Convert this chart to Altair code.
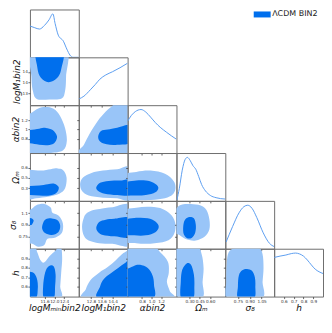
import altair as alt
import pandas as pd

# ---------------- parameters ----------------
TITLES = ["logMₘᵢₙbin2", "logM₁bin2", "αbin2", "Ωₘ", "σ₈", "h"]
DOMAINS = [[11.0, 13.0], [11.9, 15.5], [0.5, 1.52], [0.11, 0.82], [0.59, 1.21], [0.5, 1.0]]
TICKS = [[11.6, 12.0, 12.4], [12.8, 13.6, 14.4], [0.8, 1.0, 1.2],
         [0.30, 0.45, 0.60], [0.75, 0.90, 1.05], [0.6, 0.7, 0.8, 0.9]]
XFMT = [".1f", ".1f", ".1f", ".2f", ".2f", ".1f"]
YFMT = "~g"
LEGEND_LABELS = ["ΛCDM BIN2"]

# ---------------- 1D marginals (normalised density) ----------------
D0_X = [11.0, 11.2, 11.39, 11.59, 11.78, 11.94, 12.03, 12.16, 12.37, 12.51, 12.64, 12.76, 13.0]
D0_P = [0.72, 0.68, 0.65, 0.73, 0.86, 1.0, 0.78, 0.51, 0.37, 0.19, 0.05, 0.0, 0.0]
D1_X = [11.93, 12.28, 12.75, 13.12, 13.45, 13.89, 14.38, 14.94, 15.5]
D1_P = [0.145, 0.207, 0.353, 0.477, 0.596, 0.695, 0.768, 0.861, 0.965]
D2_X = [0.5, 0.58, 0.66, 0.78, 0.88, 0.98, 1.08, 1.18, 1.314, 1.42, 1.52]
D2_P = [0.73, 0.867, 0.952, 1.0, 0.941, 0.825, 0.698, 0.592, 0.476, 0.391, 0.317]
D3_X = [0.117, 0.152, 0.194, 0.237, 0.269, 0.307, 0.349, 0.391, 0.433, 0.476, 0.532, 0.602, 0.686, 0.82]
D3_P = [0.02, 0.29, 0.706, 0.955, 1.0, 0.934, 0.81, 0.726, 0.56, 0.374, 0.228, 0.125, 0.073, 0.042]
D4_X = [0.6, 0.682, 0.764, 0.826, 0.875, 0.928, 0.989, 1.071, 1.152, 1.21]
D4_P = [0.154, 0.508, 0.825, 0.967, 1.0, 0.931, 0.719, 0.366, 0.121, 0.049]
D5_X = [0.5, 0.56, 0.62, 0.68, 0.72, 0.76, 0.8, 0.84, 0.88, 0.92, 0.96, 1.0]
D5_P = [0.9, 0.93, 0.955, 0.99, 1.0, 0.98, 0.93, 0.84, 0.73, 0.63, 0.57, 0.53]
DIAG = [(D0_X, D0_P), (D1_X, D1_P), (D2_X, D2_P), (D3_X, D3_P), (D4_X, D4_P), (D5_X, D5_P)]

# ---------------- 2D contours (68% inner, 95% outer), vertices in data units ----------------
# key: (row parameter, column parameter)
CONTOURS = {
    (1, 0): {
        "outer": [([11.06, 11.06, 11.12, 11.28, 11.8, 12.3, 12.44, 12.48, 12.48],
                   [16.22, 14.06, 12.98, 12.37, 12.33, 12.4, 12.98, 14.06, 16.22])],
        "inner": [([11.29, 11.30, 11.44, 11.76, 12.10, 12.28, 12.34],
                   [16.22, 14.78, 13.99, 13.63, 13.92, 14.60, 16.22])],
    },
    (2, 0): {
        "outer": [([10.67, 11.0, 11.34, 11.65, 11.97, 12.24, 12.44, 12.51, 12.36, 11.85, 11.26, 10.67],
                   [1.304, 1.344, 1.451, 1.481, 1.442, 1.285, 1.03, 0.755, 0.559, 0.50, 0.49, 0.49])],
        "inner": [([10.67, 11.0, 11.38, 11.65, 11.93, 12.11, 12.0, 11.73, 11.38, 11.0, 10.67],
                   [0.971, 0.99, 1.02, 1.036, 0.99, 0.853, 0.716, 0.667, 0.677, 0.706, 0.706])],
    },
    (3, 0): {
        "outer": [([10.67, 11.0, 11.46, 11.85, 12.13, 12.36, 12.5, 12.44, 12.2, 11.73, 11.26, 10.67],
                   [0.566, 0.572, 0.559, 0.579, 0.592, 0.566, 0.458, 0.297, 0.217, 0.17, 0.15, 0.15])],
        "inner": [([10.67, 11.0, 11.38, 11.73, 12.0, 12.18, 12.09, 11.81, 11.38, 11.0, 10.67],
                   [0.318, 0.331, 0.338, 0.358, 0.364, 0.311, 0.231, 0.19, 0.19, 0.197, 0.197])],
    },
    (4, 0): {
        "outer": [([10.67, 11.0, 11.26, 11.59, 11.85, 11.92, 12.18, 12.35, 12.31, 12.05, 11.72, 11.59, 11.33, 11.07, 10.67],
                   [1.091, 1.094, 1.154, 1.171, 1.123, 1.055, 1.016, 0.916, 0.796, 0.737, 0.718, 0.638, 0.617, 0.658, 0.662])],
        "inner": [([11.54, 11.65, 11.89, 12.13, 12.24, 12.16, 11.89, 11.62, 11.5],
                   [0.924, 0.971, 0.983, 0.96, 0.888, 0.805, 0.769, 0.793, 0.852]),
                  ([10.67, 11.0, 11.15, 11.09, 11.0, 10.67],
                   [0.983, 0.989, 0.96, 0.906, 0.894, 0.894])],
    },
    (5, 0): {
        "outer": [([10.67, 11.18, 11.3, 11.42, 11.58, 11.81, 12.05, 12.16, 12.28, 12.32, 12.28, 12.24, 12.2, 10.67],
                   [1.019, 1.019, 0.962, 0.885, 0.856, 0.923, 0.981, 1.019, 1.019, 0.894, 0.75, 0.606, 0.481, 0.481])],
        "inner": [([10.67, 11.0, 11.18, 11.3, 11.32, 11.22, 10.67],
                   [0.75, 0.76, 0.74, 0.673, 0.577, 0.481, 0.481]),
                  ([11.62, 11.77, 11.97, 12.05, 12.03, 11.97, 11.58, 11.54],
                   [0.75, 0.817, 0.817, 0.731, 0.606, 0.481, 0.481, 0.606])],
    },
    (2, 1): {
        "outer": [([12.0, 12.28, 12.7, 13.26, 13.89, 14.38, 14.66, 15.78, 15.78],
                   [0.461, 0.677, 0.912, 1.167, 1.383, 1.51, 1.579, 1.579, 0.461])],
        "inner": [([13.33, 13.54, 14.03, 14.73, 15.78, 15.78, 14.73, 13.96, 13.47],
                   [0.854, 0.971, 1.0, 1.04, 1.089, 0.736, 0.677, 0.687, 0.746])],
    },
    (3, 1): {
        "outer": [([12.0, 12.21, 12.84, 13.68, 14.73, 15.78, 15.78, 14.73, 13.68, 12.63, 12.14],
                   [0.364, 0.458, 0.525, 0.559, 0.579, 0.599, 0.137, 0.15, 0.157, 0.19, 0.257])],
        "inner": [([13.19, 13.47, 14.1, 14.94, 15.78, 15.78, 14.73, 13.82, 13.33],
                   [0.311, 0.378, 0.405, 0.411, 0.418, 0.204, 0.197, 0.217, 0.257])],
    },
    (4, 1): {
        "outer": [([12.14, 12.28, 12.52, 12.98, 13.45, 14.38, 15.78, 15.78, 14.38, 13.4, 12.63, 12.28],
                   [0.876, 0.995, 1.055, 1.091, 1.106, 1.127, 1.138, 0.653, 0.653, 0.662, 0.697, 0.757])],
        "inner": [([13.19, 13.4, 13.89, 14.52, 15.78, 15.78, 14.52, 13.68, 13.33],
                   [0.864, 0.936, 0.966, 0.978, 0.984, 0.745, 0.751, 0.769, 0.805])],
    },
    (5, 1): {
        "outer": [([12.28, 12.42, 12.77, 13.4, 14.03, 14.59, 15.08, 15.5, 15.78, 15.78],
                   [0.481, 0.577, 0.673, 0.75, 0.808, 0.875, 0.942, 0.981, 1.01, 0.481])],
        "inner": [([13.33, 13.47, 13.75, 14.24, 14.8, 15.36, 15.78, 15.78],
                   [0.481, 0.606, 0.683, 0.74, 0.798, 0.856, 0.885, 0.481])],
    },
    (3, 2): {
        "outer": [([0.38, 0.68, 0.98, 1.28, 1.46, 1.5, 1.44, 1.28, 0.98, 0.58, 0.38],
                   [0.472, 0.539, 0.559, 0.512, 0.405, 0.297, 0.204, 0.15, 0.123, 0.117, 0.117])],
        "inner": [([0.38, 0.68, 0.88, 1.04, 1.14, 1.08, 0.88, 0.64, 0.38],
                   [0.364, 0.411, 0.411, 0.378, 0.311, 0.237, 0.197, 0.19, 0.204])],
    },
    (4, 2): {
        "outer": [([0.38, 0.68, 0.98, 1.24, 1.42, 1.5, 1.46, 1.3, 0.98, 0.68, 0.38],
                   [1.055, 1.121, 1.133, 1.103, 1.019, 0.9, 0.769, 0.686, 0.656, 0.662, 0.709])],
        "inner": [([0.38, 0.68, 0.92, 1.08, 1.15, 1.08, 0.88, 0.64, 0.38],
                   [0.948, 0.99, 0.984, 0.942, 0.876, 0.805, 0.763, 0.763, 0.793])],
    },
    (5, 2): {
        "outer": [([0.38, 1.02, 1.18, 1.34, 1.36, 1.32, 1.38, 1.42, 0.38],
                   [1.019, 1.019, 0.962, 0.865, 0.75, 0.654, 0.558, 0.481, 0.481])],
        "inner": [([0.38, 0.62, 0.76, 0.92, 1.02, 1.05, 1.02, 0.38],
                   [0.731, 0.817, 0.832, 0.798, 0.721, 0.625, 0.481, 0.481])],
    },
    (4, 3): {
        "outer": [([0.082, 0.124, 0.194, 0.321, 0.462, 0.546, 0.588, 0.588, 0.518, 0.391, 0.265, 0.152, 0.082],
                   [1.055, 1.127, 1.162, 1.168, 1.15, 1.091, 0.972, 0.84, 0.745, 0.697, 0.709, 0.769, 0.817])],
        "inner": [([0.208, 0.23, 0.293, 0.363, 0.391, 0.384, 0.335, 0.265, 0.215],
                   [0.876, 0.96, 1.001, 0.984, 0.9, 0.805, 0.733, 0.727, 0.781])],
    },
    (5, 3): {
        "outer": [([0.082, 0.405, 0.476, 0.504, 0.49, 0.476, 0.082],
                   [1.019, 1.019, 0.942, 0.798, 0.654, 0.481, 0.481])],
        "inner": [([0.173, 0.194, 0.258, 0.321, 0.363, 0.37, 0.349, 0.18],
                   [0.654, 0.779, 0.846, 0.832, 0.731, 0.606, 0.481, 0.481])],
    },
    (5, 4): {
        "outer": [([0.608, 0.633, 0.719, 0.866, 1.014, 1.063, 1.075, 1.063, 1.05, 0.621, 0.602],
                   [0.846, 0.962, 1.01, 1.019, 1.01, 0.942, 0.798, 0.654, 0.481, 0.481, 0.654])],
        "inner": [([0.75, 0.762, 0.805, 0.866, 0.928, 0.965, 0.971, 0.952, 0.756],
                   [0.606, 0.721, 0.774, 0.788, 0.769, 0.702, 0.606, 0.481, 0.481])],
    },
}

# ---------------- styling ----------------
W, H = 49, 48
DARK = "#006FED"
LIGHT = "#99C5F8"
LINE = "#5d9ff0"
BORDER = "#6e6e6e"
FONT = "DejaVu Sans"
N = len(TITLES)


def frame():
    return alt.ViewBackground(stroke=BORDER, strokeWidth=1, strokeOpacity=1)


def x_enc(j, show):
    ax = dict(values=TICKS[j], format=XFMT[j], labels=show, title=TITLES[j] if show else "")
    return alt.X("x:Q", scale=alt.Scale(domain=DOMAINS[j], nice=False, zero=False), axis=alt.Axis(**ax))


def y_enc(i, show):
    ax = dict(values=TICKS[i], format=YFMT, labels=show, title=TITLES[i] if show else "")
    return alt.Y("y:Q", scale=alt.Scale(domain=DOMAINS[i], nice=False, zero=False), axis=alt.Axis(**ax))


def diag_panel(k):
    xs, ps = DIAG[k]
    df = pd.DataFrame({"x": xs, "p": ps})
    return alt.Chart(df).mark_line(color=LINE, strokeWidth=1, interpolate="monotone", clip=True).encode(
        x=x_enc(k, k == N - 1),
        y=alt.Y("p:Q", scale=alt.Scale(domain=[0, 1.1], nice=False), axis=None),
    ).properties(width=W, height=H, view=frame())


def contour_panel(i, j):
    rows = []
    for level in ("outer", "inner"):
        for pidx, (xs, ys) in enumerate(CONTOURS[(i, j)][level]):
            for k, (a, b) in enumerate(zip(xs, ys)):
                rows.append({"x": a, "y": b, "level": level, "piece": f"{level}{pidx}", "k": k})
    df = pd.DataFrame(rows)
    enc = dict(x=x_enc(j, i == N - 1), y=y_enc(i, j == 0),
               detail="piece:N", order=alt.Order("k:Q"))
    base = alt.Chart(df)
    outer = base.transform_filter(alt.datum.level == "outer").mark_line(
        filled=True, color=LIGHT, interpolate="cardinal-closed", clip=True, strokeWidth=0).encode(**enc)
    inner = base.transform_filter(alt.datum.level == "inner").mark_line(
        filled=True, color=DARK, interpolate="cardinal-closed", clip=True, strokeWidth=0).encode(**enc)
    return alt.layer(outer, inner).properties(width=W, height=H, view=frame())


def blank_panel():
    return alt.Chart(pd.DataFrame({"t": [""]})).mark_text().encode(text="t:N").properties(
        width=W, height=H, view=alt.ViewBackground(strokeOpacity=0))


def legend_panel():
    return alt.Chart(pd.DataFrame({"label": LEGEND_LABELS})).mark_point(filled=True, opacity=0).encode(
        color=alt.Color("label:N", scale=alt.Scale(domain=LEGEND_LABELS, range=[DARK]),
                        legend=alt.Legend(title=None, orient="none", legendX=-17, legendY=0,
                                          symbolType="M-1.7,-0.6H1.7V0.6H-1.7Z", symbolSize=100,
                                          symbolOpacity=1, symbolStrokeWidth=0,
                                          labelFontSize=8, labelFont=FONT, labelColor="#222",
                                          labelOffset=5)),
    ).properties(width=W, height=H, view=alt.ViewBackground(strokeOpacity=0))


cells = []
for i in range(N):
    for j in range(N):
        if i == j:
            cells.append(diag_panel(i))
        elif i > j:
            cells.append(contour_panel(i, j))
        elif i == 0 and j == N - 1:
            cells.append(legend_panel())
        else:
            cells.append(blank_panel())

chart = alt.concat(*cells, columns=N, spacing=0, bounds="flush").resolve_scale(
    color="independent").resolve_legend(color="independent").properties(padding=0).configure_view(
    strokeOpacity=0).configure_axis(
    grid=False, domain=False, tickSize=2, tickColor="#444", tickWidth=0.8,
    labelFont=FONT, labelFontSize=4.2, labelColor="#333", labelPadding=0.5,
    titleFont=FONT, titleFontSize=9, titleFontWeight="normal", titleFontStyle="italic",
    titleColor="#111", titlePadding=0.5,
)

chart.save("out.html", embed_options={"renderer": "svg", "actions": False})
